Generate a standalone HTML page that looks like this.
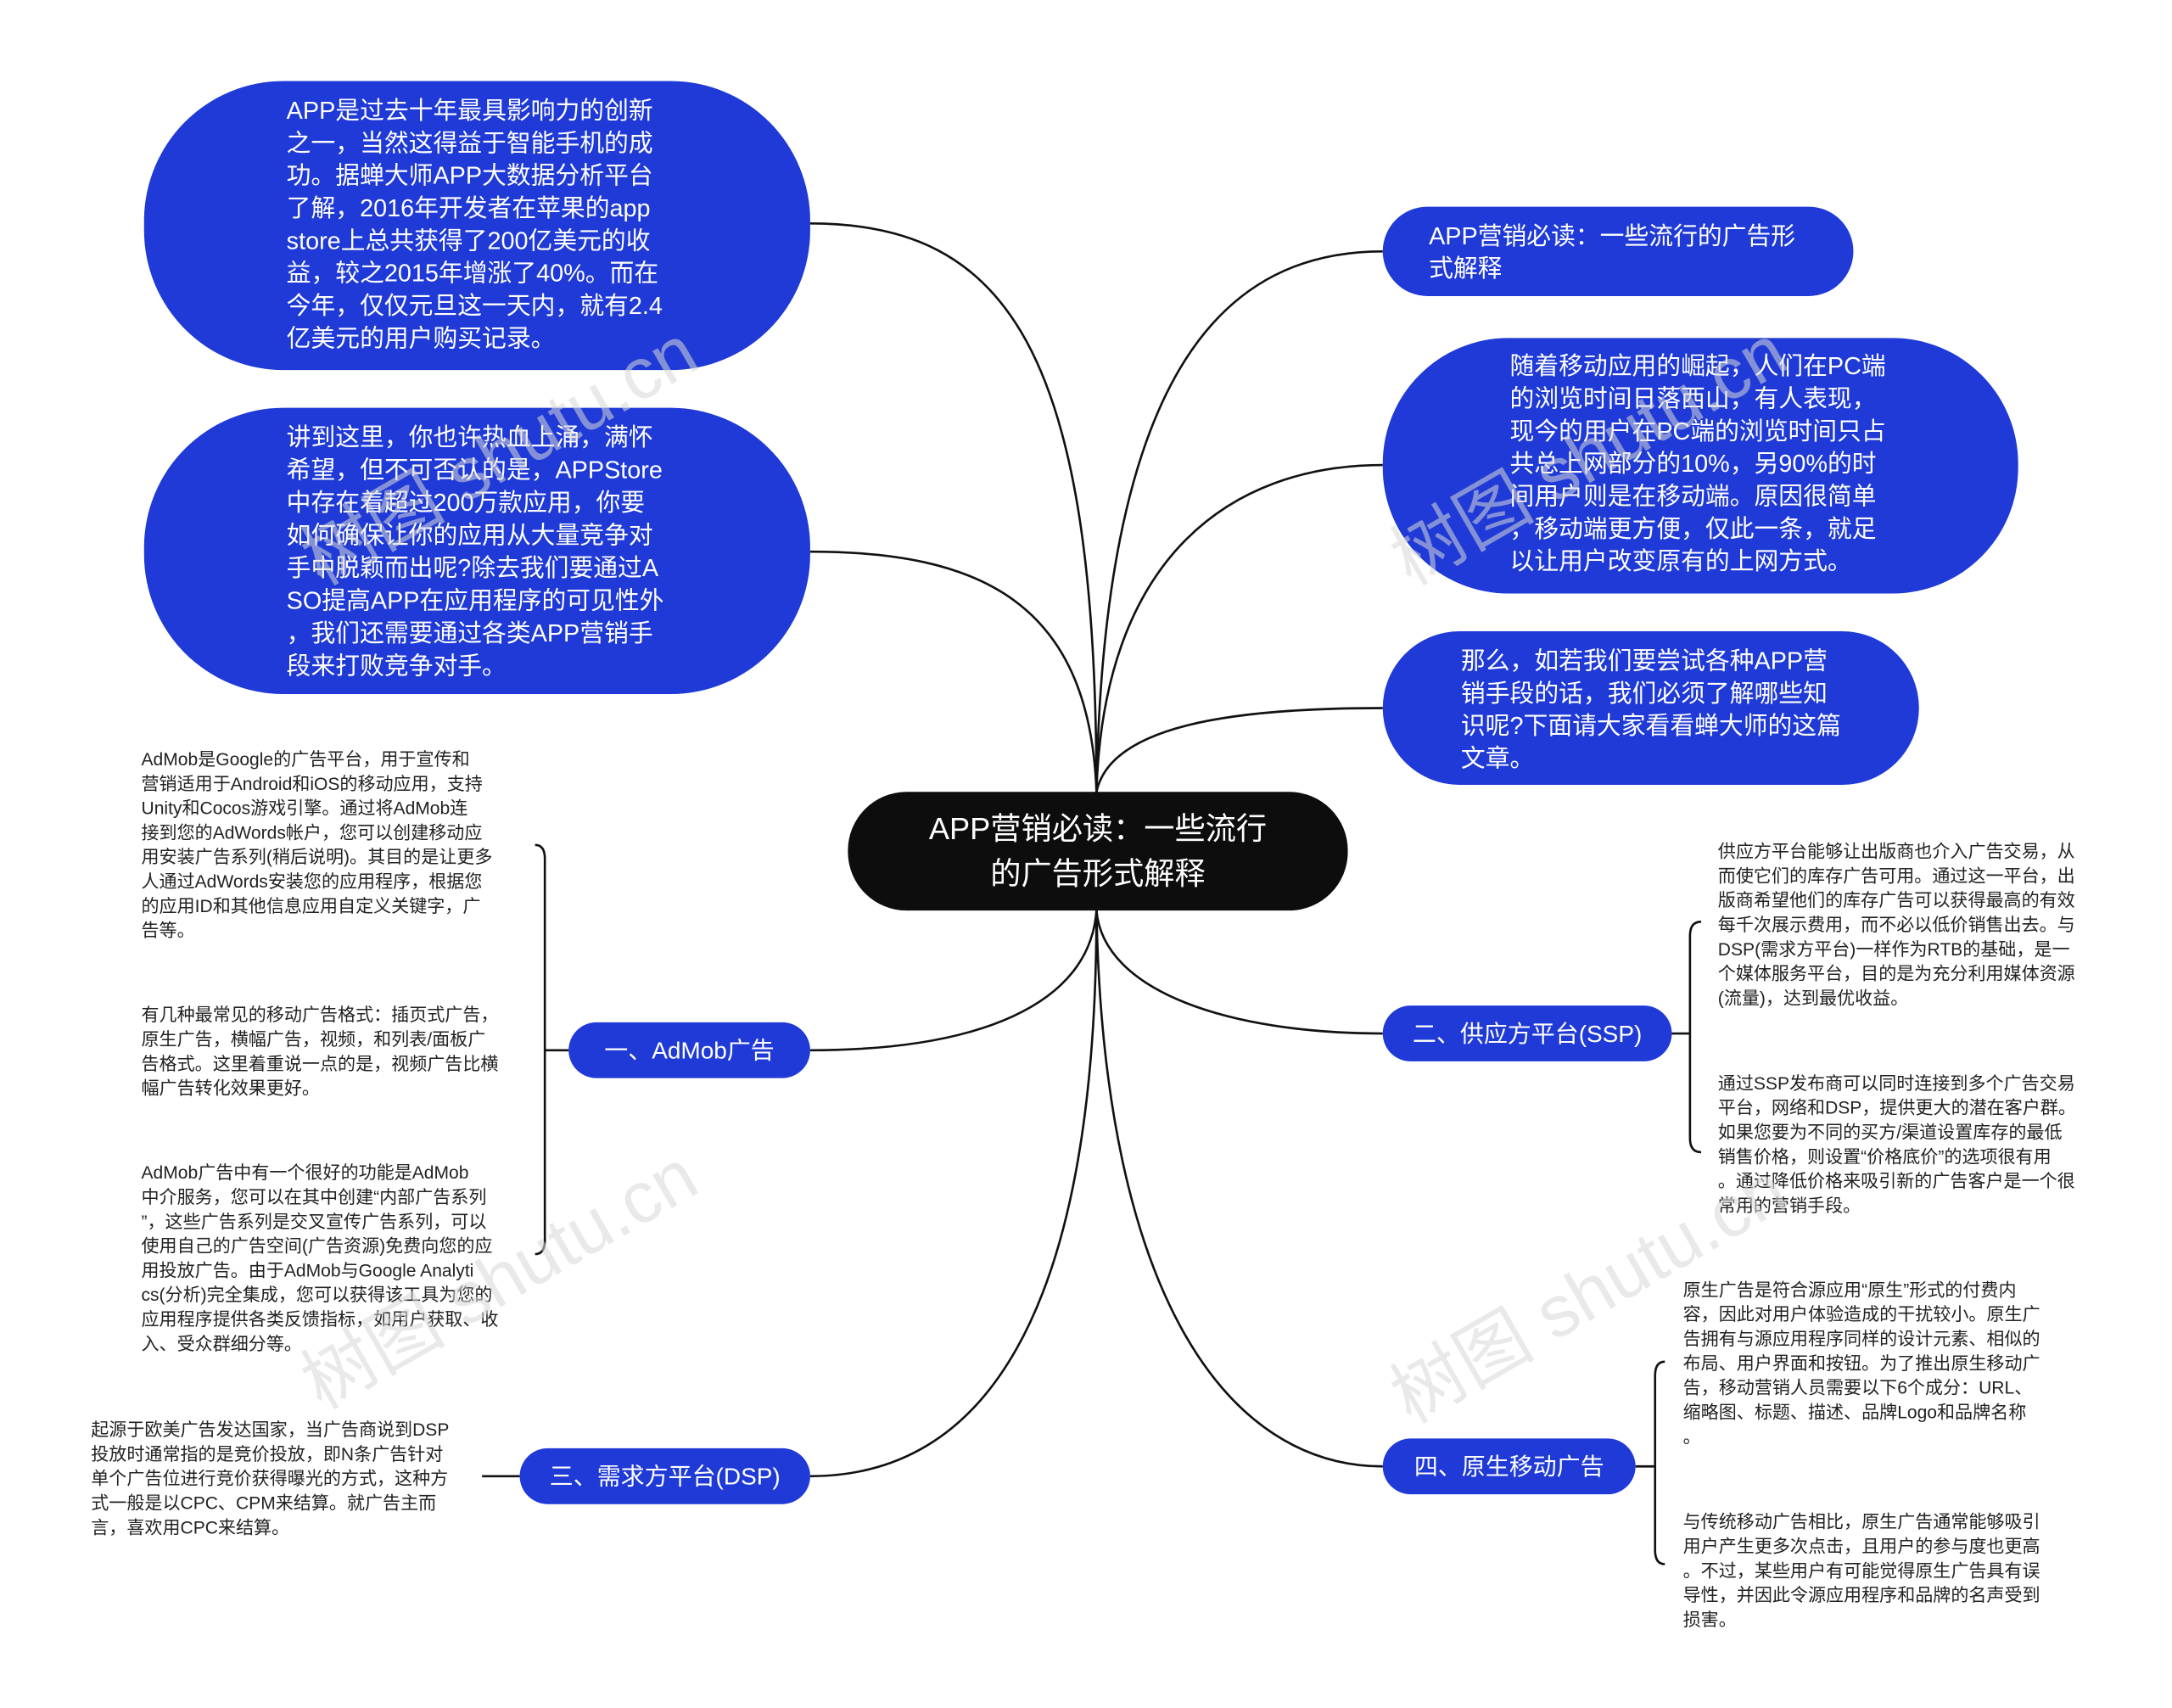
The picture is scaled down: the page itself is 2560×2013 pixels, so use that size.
<!DOCTYPE html>
<html><head><meta charset="utf-8"><style>
html,body{margin:0;padding:0;background:#fff;}
svg{display:block;}
text{font-family:"Liberation Sans","Noto Sans CJK SC",sans-serif;}
.b{font-size:17.5px;fill:#fff;}
.s{font-size:12.8px;fill:#222;}
.l{font-size:17px;fill:#fff;}
.w{font-size:52px;fill:#d8d8d8;opacity:.55;}
</style></head><body>
<svg width="2560" height="2013" viewBox="0 0 1555 1223" xmlns="http://www.w3.org/2000/svg">
<g fill="none" stroke="#111" stroke-width="1.6">
<path d="M785 567 C 785 250, 720 160, 580 160"/>
<path d="M785 567 C 780 430, 700 395, 580 395"/>
<path d="M785 567 C 790 260, 880 180, 990 180"/>
<path d="M785 567 C 790 400, 880 333, 990 333"/>
<path d="M785 567 C 795 520, 880 507, 990 507"/>
<path d="M785 652 C 780 720, 700 752, 580 752"/>
<path d="M785 652 C 785 950, 700 1057, 580 1057"/>
<path d="M785 652 C 790 710, 880 740, 990 740"/>
<path d="M785 652 C 790 930, 880 1050, 990 1050"/>
<path d="M407 752 L390 752 M383 605 Q390 605 390 615 L390 888 Q390 898 383 898"/>
<path d="M372 1057 L345 1057"/>
<path d="M1197 740 L1210 740 M1218 660 Q1210 660 1210 670 L1210 815 Q1210 825 1218 825"/>
<path d="M1171 1050 L1185 1050 M1192 975 Q1185 975 1185 985 L1185 1110 Q1185 1120 1192 1120"/>
</g>
<g fill="#1f3ad6">
<rect x="103" y="58" width="477" height="207" rx="100"/>
<rect x="103" y="292" width="477" height="205" rx="100"/>
<rect x="990" y="148" width="337" height="64" rx="32"/>
<rect x="990" y="242" width="455" height="183" rx="90"/>
<rect x="990" y="452" width="384" height="110" rx="55"/>
<rect x="407" y="732" width="173" height="40" rx="20"/>
<rect x="372" y="1037" width="208" height="40" rx="20"/>
<rect x="990" y="720" width="207" height="40" rx="20"/>
<rect x="990" y="1030" width="181" height="40" rx="20"/>
</g>
<rect x="607" y="567" width="358" height="85" rx="42" fill="#0d0d0d"/>
<text x="786" y="601" text-anchor="middle" style="font-size:22px;fill:#fff">APP营销必读：一些流行</text>
<text x="786" y="633" text-anchor="middle" style="font-size:22px;fill:#fff">的广告形式解释</text>
<text class="b" x="205"><tspan x="205" y="85">APP是过去十年最具影响力的创新</tspan><tspan x="205" y="108.3">之一，当然这得益于智能手机的成</tspan><tspan x="205" y="131.6">功。据蝉大师APP大数据分析平台</tspan><tspan x="205" y="154.9">了解，2016年开发者在苹果的app</tspan><tspan x="205" y="178.2">store上总共获得了200亿美元的收</tspan><tspan x="205" y="201.5">益，较之2015年增涨了40%。而在</tspan><tspan x="205" y="224.8">今年，仅仅元旦这一天内，就有2.4</tspan><tspan x="205" y="248.1">亿美元的用户购买记录。</tspan></text>
<text class="b"><tspan x="205" y="319">讲到这里，你也许热血上涌，满怀</tspan><tspan x="205" y="342.4">希望，但不可否认的是，APPStore</tspan><tspan x="205" y="365.8">中存在着超过200万款应用，你要</tspan><tspan x="205" y="389.2">如何确保让你的应用从大量竞争对</tspan><tspan x="205" y="412.6">手中脱颖而出呢?除去我们要通过A</tspan><tspan x="205" y="436">SO提高APP在应用程序的可见性外</tspan><tspan x="205" y="459.4">，我们还需要通过各类APP营销手</tspan><tspan x="205" y="482.8">段来打败竞争对手。</tspan></text>
<text class="b"><tspan x="1023" y="175">APP营销必读：一些流行的广告形</tspan><tspan x="1023" y="198">式解释</tspan></text>
<text class="b"><tspan x="1081" y="268">随着移动应用的崛起，人们在PC端</tspan><tspan x="1081" y="291.3">的浏览时间日落西山，有人表现，</tspan><tspan x="1081" y="314.6">现今的用户在PC端的浏览时间只占</tspan><tspan x="1081" y="337.9">共总上网部分的10%，另90%的时</tspan><tspan x="1081" y="361.2">间用户则是在移动端。原因很简单</tspan><tspan x="1081" y="384.5">，移动端更方便，仅此一条，就足</tspan><tspan x="1081" y="407.8">以让用户改变原有的上网方式。</tspan></text>
<text class="b"><tspan x="1046" y="479">那么，如若我们要尝试各种APP营</tspan><tspan x="1046" y="502.3">销手段的话，我们必须了解哪些知</tspan><tspan x="1046" y="525.6">识呢?下面请大家看看蝉大师的这篇</tspan><tspan x="1046" y="548.9">文章。</tspan></text>
<text class="l" x="493.5" y="758" text-anchor="middle">一、AdMob广告</text>
<text class="l" x="476" y="1063" text-anchor="middle">三、需求方平台(DSP)</text>
<text class="l" x="1093.5" y="746" text-anchor="middle">二、供应方平台(SSP)</text>
<text class="l" x="1080.5" y="1056" text-anchor="middle">四、原生移动广告</text>
<text class="s"><tspan x="101" y="548">AdMob是Google的广告平台，用于宣传和</tspan><tspan x="101" y="565.5">营销适用于Android和iOS的移动应用，支持</tspan><tspan x="101" y="583">Unity和Cocos游戏引擎。通过将AdMob连</tspan><tspan x="101" y="600.5">接到您的AdWords帐户，您可以创建移动应</tspan><tspan x="101" y="618">用安装广告系列(稍后说明)。其目的是让更多</tspan><tspan x="101" y="635.5">人通过AdWords安装您的应用程序，根据您</tspan><tspan x="101" y="653">的应用ID和其他信息应用自定义关键字，广</tspan><tspan x="101" y="670.5">告等。</tspan></text>
<text class="s"><tspan x="101" y="731">有几种最常见的移动广告格式：插页式广告，</tspan><tspan x="101" y="748.5">原生广告，横幅广告，视频，和列表/面板广</tspan><tspan x="101" y="766">告格式。这里着重说一点的是，视频广告比横</tspan><tspan x="101" y="783.5">幅广告转化效果更好。</tspan></text>
<text class="s"><tspan x="101" y="844">AdMob广告中有一个很好的功能是AdMob</tspan><tspan x="101" y="861.5">中介服务，您可以在其中创建“内部广告系列</tspan><tspan x="101" y="879">”，这些广告系列是交叉宣传广告系列，可以</tspan><tspan x="101" y="896.5">使用自己的广告空间(广告资源)免费向您的应</tspan><tspan x="101" y="914">用投放广告。由于AdMob与Google Analyti</tspan><tspan x="101" y="931.5">cs(分析)完全集成，您可以获得该工具为您的</tspan><tspan x="101" y="949">应用程序提供各类反馈指标，如用户获取、收</tspan><tspan x="101" y="966.5">入、受众群细分等。</tspan></text>
<text class="s"><tspan x="65" y="1028">起源于欧美广告发达国家，当广告商说到DSP</tspan><tspan x="65" y="1045.5">投放时通常指的是竞价投放，即N条广告针对</tspan><tspan x="65" y="1063">单个广告位进行竞价获得曝光的方式，这种方</tspan><tspan x="65" y="1080.5">式一般是以CPC、CPM来结算。就广告主而</tspan><tspan x="65" y="1098">言，喜欢用CPC来结算。</tspan></text>
<text class="s"><tspan x="1230" y="614">供应方平台能够让出版商也介入广告交易，从</tspan><tspan x="1230" y="631.5">而使它们的库存广告可用。通过这一平台，出</tspan><tspan x="1230" y="649">版商希望他们的库存广告可以获得最高的有效</tspan><tspan x="1230" y="666.5">每千次展示费用，而不必以低价销售出去。与</tspan><tspan x="1230" y="684">DSP(需求方平台)一样作为RTB的基础，是一</tspan><tspan x="1230" y="701.5">个媒体服务平台，目的是为充分利用媒体资源</tspan><tspan x="1230" y="719">(流量)，达到最优收益。</tspan></text>
<text class="s"><tspan x="1230" y="780">通过SSP发布商可以同时连接到多个广告交易</tspan><tspan x="1230" y="797.5">平台，网络和DSP，提供更大的潜在客户群。</tspan><tspan x="1230" y="815">如果您要为不同的买方/渠道设置库存的最低</tspan><tspan x="1230" y="832.5">销售价格，则设置“价格底价”的选项很有用</tspan><tspan x="1230" y="850">。通过降低价格来吸引新的广告客户是一个很</tspan><tspan x="1230" y="867.5">常用的营销手段。</tspan></text>
<text class="s"><tspan x="1205" y="928">原生广告是符合源应用“原生”形式的付费内</tspan><tspan x="1205" y="945.5">容，因此对用户体验造成的干扰较小。原生广</tspan><tspan x="1205" y="963">告拥有与源应用程序同样的设计元素、相似的</tspan><tspan x="1205" y="980.5">布局、用户界面和按钮。为了推出原生移动广</tspan><tspan x="1205" y="998">告，移动营销人员需要以下6个成分：URL、</tspan><tspan x="1205" y="1015.5">缩略图、标题、描述、品牌Logo和品牌名称</tspan><tspan x="1205" y="1033">。</tspan></text>
<text class="s"><tspan x="1205" y="1094">与传统移动广告相比，原生广告通常能够吸引</tspan><tspan x="1205" y="1111.5">用户产生更多次点击，且用户的参与度也更高</tspan><tspan x="1205" y="1129">。不过，某些用户有可能觉得原生广告具有误</tspan><tspan x="1205" y="1146.5">导性，并因此令源应用程序和品牌的名声受到</tspan><tspan x="1205" y="1164">损害。</tspan></text>
<text class="w" transform="translate(230,1010) rotate(-30)">树图 shutu.cn</text>
<text class="w" transform="translate(1010,1020) rotate(-30)">树图 shutu.cn</text>
<text class="w" transform="translate(1010,420) rotate(-30)">树图 shutu.cn</text>
<text class="w" transform="translate(230,420) rotate(-30)">树图 shutu.cn</text>
</svg>
</body></html>
